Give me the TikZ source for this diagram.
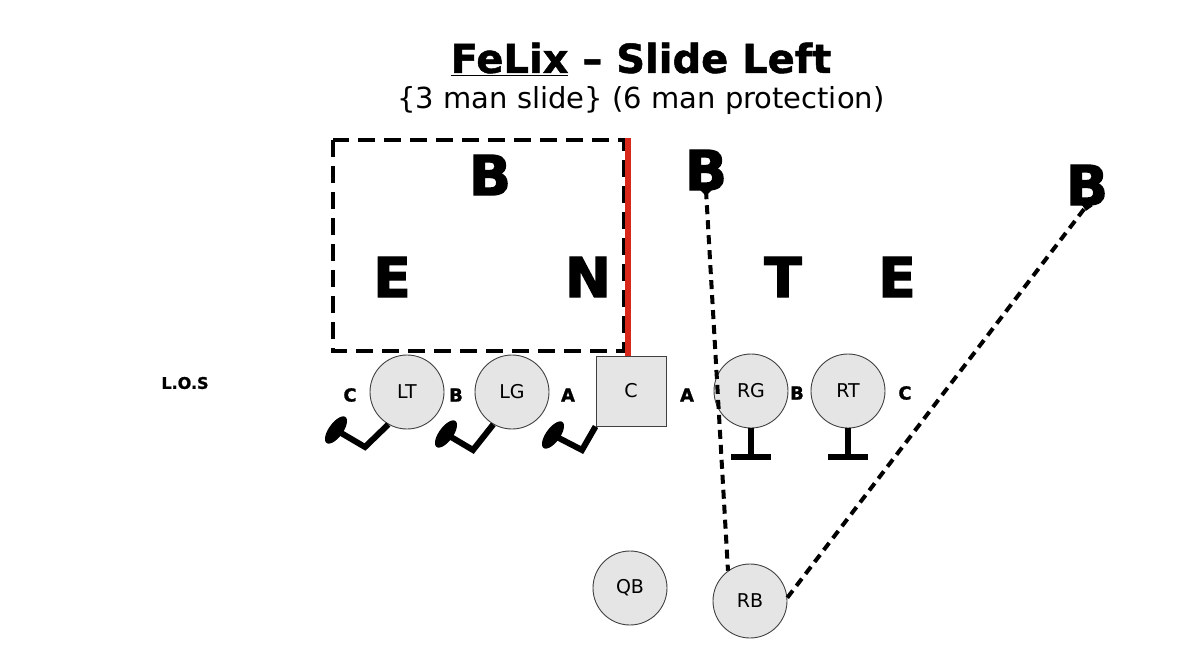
\documentclass[tikz,border=0pt]{standalone}
\usepackage{fontspec}
\setmainfont{DejaVu Sans}
\newfontfamily\heavyfont[FakeBold=2.5]{DejaVu Sans Bold}
\newfontfamily\semiheavy[FakeBold=1.2]{DejaVu Sans Bold}
\definecolor{slidered}{HTML}{D8281C}
\newcommand{\footellipse}[1]{%
  \fill[shift={(#1)}] plot[domain=0:360,samples=48,variable=\t,smooth cycle]
    ({16*cos(\t)*0.59+7*sin(\t)*0.81},{-16*cos(\t)*0.81+7*sin(\t)*0.59});}
\begin{document}
\begin{tikzpicture}[x=1pt,y=-1pt,
  player/.style={circle,draw=black!75,line width=0.9pt,fill=black!10,minimum size=74pt,inner sep=0pt,font=\fontsize{19}{20}\selectfont},
  center/.style={rectangle,draw=black!75,line width=0.9pt,fill=black!10,minimum size=70pt,inner sep=0pt,font=\fontsize{19}{20}\selectfont},
  defl/.style={inner sep=0pt,font=\heavyfont\fontsize{55}{60}\selectfont},
  gap/.style={inner sep=0pt,font=\semiheavy\fontsize{18}{20}\selectfont},
  rush/.style={line width=4pt,dash pattern=on 9pt off 6pt},
  block/.style={line width=6pt},
]
\useasboundingbox (0,0) rectangle (1200,656);
% titles
\node[inner sep=0pt,font=\semiheavy\fontsize{40}{44}\selectfont] (title) at (641,59) {\underline{FeLix} – Slide Left};
\node[inner sep=0pt,font=\fontsize{29}{32}\selectfont] (sub) at (641,100) {\{3 man slide\} (6 man protection)};
% defenders
\node[defl] (Bl) at (490,175) {B};
\node[defl] (El) at (392,277) {E};
\node[defl] (N) at (588,277) {N};
\node[defl] (Bm) at (706,170) {B};
\node[defl] (T) at (783,277) {T};
\node[defl] (Er) at (897,277) {E};
\node[defl] (Br) at (1087,185) {B};
% slide box
\draw[line width=4.5pt,dash pattern=on 17pt off 9pt] (333,140) rectangle (624,351);
% LOS
\node[inner sep=0pt,font=\semiheavy\fontsize{16}{18}\selectfont] (los) at (185,383) {L.O.S};
% linemen
\node[player] (LT) at (407,392) {LT};
\node[player] (LG) at (512,392) {LG};
\node[center] (C) at (631,391) {C};
\node[player] (RG) at (751,391) {RG};
\node[player] (RT) at (848,391) {RT};
\node[player] (QB) at (630,588) {QB};
\node[player] (RB) at (750,601) {RB};
% gaps
\node[gap] (gC1) at (350,395) {C};
\node[gap] (gB1) at (456,395) {B};
\node[gap] (gA1) at (568,395) {A};
\node[gap] (gA2) at (687,395) {A};
\node[gap] (gB2) at (797,393) {B};
\node[gap] (gC2) at (905,393) {C};
% red line
\coordinate (redtop) at (628,138);
\draw[slidered,line width=5.5pt] (C.north -| redtop) -- (redtop);
% slide symbols
\coordinate (eLT) at (336,430);
\coordinate (eLG) at (446,434);
\coordinate (eC) at (553,435);
\draw[block] (LT.240) -- (365,447) -- (eLT);
\footellipse{eLT}
\draw[block] (LG.240) -- (473,450) -- (eLG);
\footellipse{eLG}
\draw[block] (C.south west) -- (582,450) -- (eC);
\footellipse{eC}
% blocks
\foreach \nm in {RG,RT}{
  \coordinate (\nm bar) at ([yshift=-29pt]\nm.south);
  \draw[block] (\nm.south) -- (\nm bar);
  \draw[block] ([xshift=-20pt]\nm bar) -- ([xshift=20pt]\nm bar);
}
% rush lines
\draw[rush] (Bm.south) -- (RB.126);
\fill[rotate around={45:(Bm.south)}] ([xshift=-4pt,yshift=-4pt]Bm.south) rectangle ([xshift=4pt,yshift=4pt]Bm.south);
\draw[rush] (RB.5) -- (Br.south);
\fill[rotate around={35:(Br.south)}] ([xshift=-4pt,yshift=-4pt]Br.south) rectangle ([xshift=4pt,yshift=4pt]Br.south);
\end{tikzpicture}
\end{document}
